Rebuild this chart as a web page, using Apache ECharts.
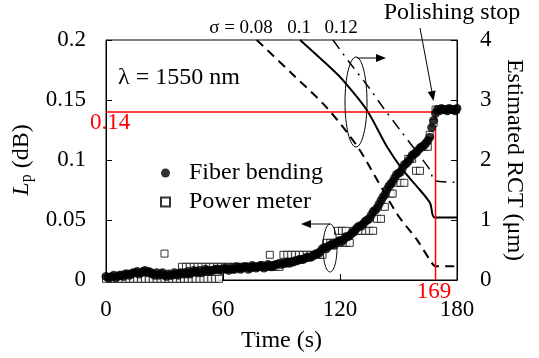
<!DOCTYPE html>
<html><head><meta charset="utf-8">
<script src="https://cdn.jsdelivr.net/npm/echarts@6/dist/echarts.min.js"></script>
<style>html,body{margin:0;padding:0;background:#fff}#c{width:539px;height:358px}</style>
</head><body><div id="c"></div>
<script>
// ---- data ----
const timeFB = [0,1,2,3,4,5,6,7,8,9,10,11,12,13,14,15,16,17,18,19,20,21,22,23,24,25,26,27,28,29,30,31,32,33,34,35,36,37,38,39,40,41,42,43,44,45,46,47,48,49,50,51,52,53,54,55,56,57,58,59,60,61,62,63,64,65,66,67,68,69,70,71,72,73,74,75,76,77,78,79,80,81,82,83,84,85,86,87,88,89,90,91,92,93,94,95,96,97,98,99,100,101,102,103,104,105,106,107,108,109,110,111,112,113,114,115,116,117,118,119,120,121,122,123,124,125,126,127,128,129,130,131,132,133,134,135,136,137,138,139,140,141,142,143,144,145,146,147,148,149,150,151,152,153,154,155,156,157,158,159,160,161,162,163,164,165,166,167,168,169,170,171,172,173,174,175,176,177,178,179,180];
const lossFB = [
0.003,0.002,0.002,0.003,0.004,0.002,0.003,0.004,0.004,0.003,
0.005,0.005,0.004,0.005,0.006,0.006,0.007,0.005,0.006,0.007,
0.008,0.006,0.007,0.006,0.005,0.004,0.006,0.004,0.005,0.006,
0.004,0.003,0.005,0.004,0.004,0.006,0.005,0.004,0.006,0.005,
0.006,0.005,0.007,0.005,0.006,0.008,0.007,0.006,0.008,0.006,
0.007,0.009,0.008,0.007,0.008,0.008,0.009,0.009,0.009,0.008,
0.009,0.010,0.009,0.008,0.010,0.009,0.009,0.011,0.010,0.009,
0.010,0.011,0.011,0.009,0.010,0.012,0.011,0.010,0.011,0.012,
0.012,0.010,0.011,0.013,0.012,0.011,0.012,0.013,0.013,0.014,
0.013,0.014,0.014,0.015,0.014,0.015,0.015,0.016,0.016,0.017,
0.017,0.017,0.018,0.019,0.019,0.019,0.020,0.021,0.022,0.022,
0.024,0.026,0.027,0.026,0.028,0.029,0.030,0.029,0.031,0.032,
0.033,0.032,0.034,0.036,0.036,0.037,0.039,0.040,0.042,0.044,
0.045,0.045,0.047,0.049,0.050,0.051,0.054,0.057,0.058,0.060,
0.063,0.066,0.069,0.071,0.075,0.078,0.080,0.082,0.085,0.088,
0.089,0.090,0.093,0.096,0.097,0.099,0.101,0.104,0.105,0.106,
0.108,0.110,0.111,0.112,0.114,0.116,0.119,0.127,0.133,0.139,
0.142,0.141,0.143,0.142,0.142,0.141,0.143,0.142,0.142,0.141,
0.143];
const timePM = [0,2,4,6,8,10,12,14,16,18,20,22,24,26,28,30,32,34,36,38,40,42,44,46,48,50,52,54,56,58,30,84,39,41,43,45,47,49,51,53,55,57,59,61,63,65,67,69,71,73,75,77,79,81,83,85,87,89,91,93,95,97,99,101,103,105,107,109,111,113,115,117,119,121,123,125,119,121,123,127,129,131,133,135,137,139,141,143,146,147,149,151,153,155,157,159,161,163,165,166,168,169,170.5,172,173.5,175,176.5,178,179.5];
const lossPM = [0.001,0.001,0.001,0.001,0.001,0.001,0.001,0.001,0.001,0.001,0.001,0.001,0.001,0.001,0.001,0.001,0.001,0.001,0.001,0.001,0.001,0.001,0.001,0.001,0.001,0.001,0.001,0.001,0.001,0.001,0.022,0.021,0.011,0.011,0.011,0.011,0.011,0.011,0.011,0.011,0.011,0.011,0.011,0.011,0.011,0.011,0.011,0.011,0.011,0.011,0.011,0.011,0.011,0.011,0.011,0.011,0.011,0.011,0.021,0.021,0.021,0.021,0.021,0.021,0.021,0.021,0.021,0.021,0.021,0.031,0.031,0.031,0.031,0.031,0.031,0.031,0.041,0.041,0.041,0.041,0.041,0.041,0.041,0.041,0.041,0.051,0.051,0.061,0.072,0.072,0.081,0.081,0.081,0.101,0.101,0.091,0.091,0.111,0.111,0.121,0.131,0.142,0.142,0.142,0.142,0.142,0.142,0.142,0.142];
const t008 = [77.3,95,113.3,129,139,149.7,159.5,166.2,169,180];
const rct008 = [4,3.45,2.87,2.22,1.67,1.08,0.67,0.33,0.23,0.23];
const t010 = [99.5,116.4,121.5,133.8,144.1,152.3,161,166.2,168.5,180];
const rct010 = [4,3.5,3.33,2.83,2.22,1.83,1.5,1.28,1.04,1.04];
const t012 = [116.4,125,135,142,150.8,156,162,166.2,168.7,180];
const rct012 = [4,3.62,3.2,2.88,2.5,2.28,2.02,1.83,1.65,1.63];
const stopTime = 169;
const stopLoss = 0.14;
const xTicks = [0,60,120,180];
const sigmaLabels = ['σ = 0.08','0.1','0.12'];

const pairs = (xs, ys) => xs.map((x, i) => [x, ys[i]]);
const F = 'Liberation Serif, Times New Roman, serif';
const chart = echarts.init(document.getElementById('c'), null, {renderer: 'canvas'});

function arrowHead(x, y, dx, dy) {
  const L = 10, W = 4;
  const n = Math.hypot(dx, dy); const ux = dx / n, uy = dy / n;
  const bx = x - ux * L, by = y - uy * L;
  return {type: 'polygon', shape: {points: [[x, y], [bx - uy * W, by + ux * W], [bx + uy * W, by - ux * W]]}, style: {fill: '#000'}, z: 20};
}

chart.setOption({
  animation: false,
  grid: {left: 106, right: 82, top: 40, bottom: 78, show: true, borderColor: '#000', borderWidth: 1, backgroundColor: 'transparent'},
  legend: {
    left: 155, top: 156, orient: 'vertical', itemWidth: 9, itemHeight: 9, itemGap: 5,
    data: ['Fiber bending', 'Power meter'],
    textStyle: {fontFamily: F, fontSize: 24, color: '#000', padding: [0, 0, 0, 14]}
  },
  xAxis: {
    type: 'value', min: 0, max: 180, interval: 60,
    name: 'Time (s)', nameLocation: 'middle', nameGap: 49,
    nameTextStyle: {fontFamily: F, fontSize: 24, color: '#000'},
    axisLine: {lineStyle: {color: '#000', width: 1}},
    axisTick: {inside: true, length: 6, lineStyle: {color: '#000'}},
    axisLabel: {fontFamily: F, fontSize: 23, color: '#000', margin: 18, formatter: v => xTicks.includes(v) ? String(v) : ''},
    splitLine: {show: false}
  },
  yAxis: [{
    type: 'value', min: 0, max: 0.2, interval: 0.05,
    name: '{i|L}{s|p} (dB)', nameLocation: 'middle', nameGap: 52, nameRotate: 90,
    nameTextStyle: {fontFamily: F, fontSize: 24, color: '#000', rich: {
      i: {fontFamily: F, fontSize: 24, fontStyle: 'italic', color: '#000'},
      s: {fontFamily: F, fontSize: 16, color: '#000', verticalAlign: 'bottom', padding: [10, 0, 0, 0]}
    }},
    axisLine: {show: true, lineStyle: {color: '#000'}},
    axisTick: {show: true, inside: true, length: 6, lineStyle: {color: '#000'}},
    axisLabel: {fontFamily: F, fontSize: 23, color: '#000', margin: 20},
    splitLine: {show: false}
  }, {
    type: 'value', min: 0, max: 4, interval: 1, position: 'right',
    name: 'Estimated RCT (μm)', nameLocation: 'middle', nameGap: 37, nameRotate: -90,
    nameTextStyle: {fontFamily: F, fontSize: 24, color: '#000'},
    axisLine: {show: true, lineStyle: {color: '#000'}},
    axisTick: {show: true, inside: true, length: 6, lineStyle: {color: '#000'}},
    axisLabel: {fontFamily: F, fontSize: 23, color: '#000', margin: 23},
    splitLine: {show: false}
  }],
  series: [
    {name: 'σ0.08', type: 'line', yAxisIndex: 1, data: pairs(t008, rct008), symbol: 'none', smooth: 0.3,
      lineStyle: {color: '#000', width: 2, type: [9, 6]}, z: 2},
    {name: 'σ0.1', type: 'line', yAxisIndex: 1, data: pairs(t010, rct010), symbol: 'none', smooth: 0.3,
      lineStyle: {color: '#000', width: 2}, z: 2},
    {name: 'σ0.12', type: 'line', yAxisIndex: 1, data: pairs(t012, rct012), symbol: 'none', smooth: 0.3,
      lineStyle: {color: '#000', width: 1.5, type: [11, 6, 2, 6]}, z: 2},
    {name: 'stop', type: 'line', data: [[0, stopLoss], [stopTime, stopLoss], [180, stopLoss]], symbol: 'none',
      lineStyle: {color: '#ff0000', width: 1.5}, z: 3, silent: true},
    {name: 'stopV', type: 'line', data: [[stopTime, stopLoss], [stopTime, 0]], symbol: 'none',
      lineStyle: {color: '#ff0000', width: 1.5}, z: 3, silent: true},
    {name: 'Power meter', type: 'scatter', data: pairs(timePM, lossPM), symbol: 'rect', symbolSize: 7,
      itemStyle: {color: '#fff', borderColor: '#000', borderWidth: 1}, z: 4},
    {name: 'Fiber bending', type: 'scatter', data: pairs(timeFB, lossFB), symbol: 'circle', symbolSize: 9,
      itemStyle: {color: '#000'}, z: 5}
  ],
  graphic: [
    {type: 'text', left: 118, top: 66, style: {text: 'λ = 1550 nm', font: '24px ' + F, fill: '#000'}},
    {type: 'text', x: 241, y: 28, style: {text: sigmaLabels[0], font: '19px ' + F, fill: '#000', align: 'center', verticalAlign: 'middle'}},
    {type: 'text', x: 299, y: 28, style: {text: sigmaLabels[1], font: '19px ' + F, fill: '#000', align: 'center', verticalAlign: 'middle'}},
    {type: 'text', x: 341, y: 28, style: {text: sigmaLabels[2], font: '19px ' + F, fill: '#000', align: 'center', verticalAlign: 'middle'}},
    {type: 'text', x: 452, y: 13, style: {text: 'Polishing stop', font: '24px ' + F, fill: '#000', align: 'center', verticalAlign: 'middle'}},
    {type: 'line', shape: {x1: 420, y1: 28, x2: 432, y2: 92}, style: {stroke: '#000', lineWidth: 1}, z: 20},
    arrowHead(433.5, 101, 12, 64),
    {type: 'text', x: 90, y: 123, style: {text: '0.14', font: '23px ' + F, fill: '#ff0000', align: 'left', verticalAlign: 'middle'}, z: 20},
    {type: 'text', x: 434, y: 292, style: {text: String(stopTime), font: '23px ' + F, fill: '#ff0000', align: 'center', verticalAlign: 'middle'}, z: 20},
    {type: 'ellipse', shape: {cx: 356, cy: 102, rx: 11, ry: 45}, style: {stroke: '#000', fill: 'none', lineWidth: 1}, z: 20},
    {type: 'line', shape: {x1: 357, y1: 58, x2: 377, y2: 58}, style: {stroke: '#000', lineWidth: 1}, z: 20},
    arrowHead(386, 58, 1, 0),
    {type: 'ellipse', shape: {cx: 330, cy: 248, rx: 7, ry: 24}, style: {stroke: '#000', fill: 'none', lineWidth: 1}, z: 20},
    {type: 'line', shape: {x1: 330, y1: 224, x2: 310, y2: 224}, style: {stroke: '#000', lineWidth: 1}, z: 20},
    arrowHead(301, 224, -1, 0)
  ]
});
</script></body></html>
